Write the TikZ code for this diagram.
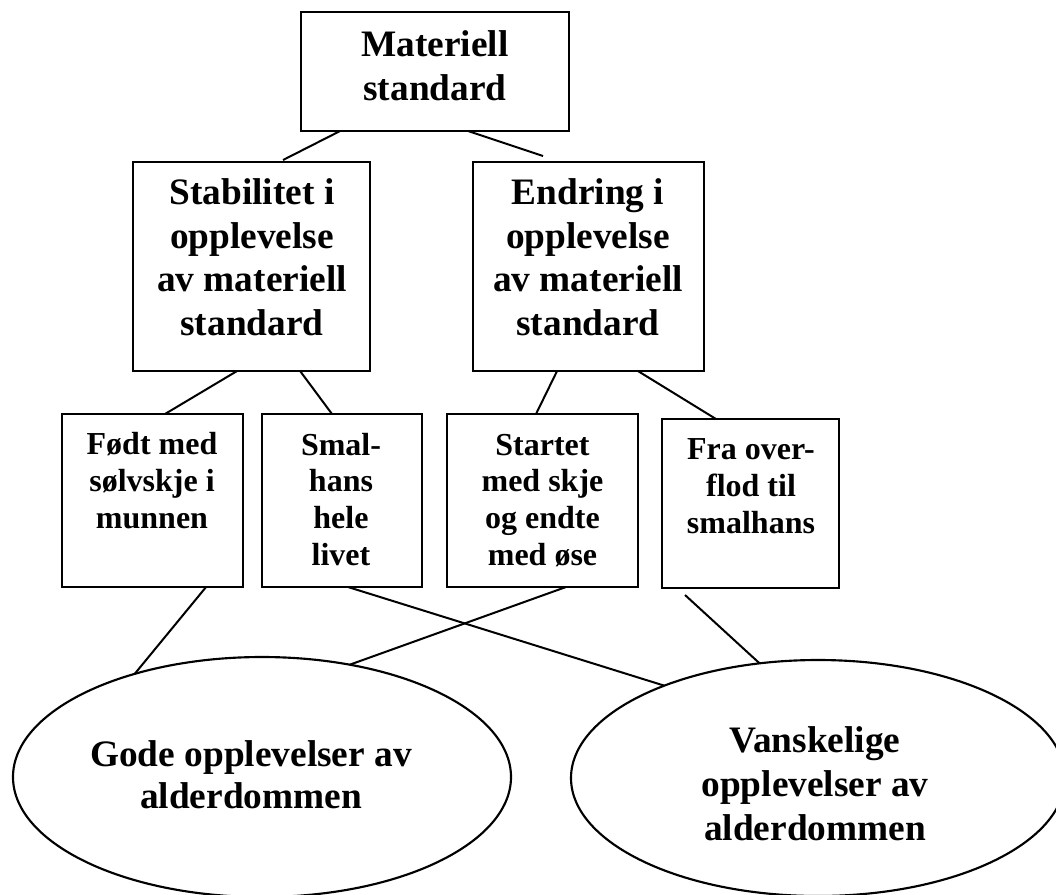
\documentclass[tikz,border=0pt]{standalone}
\usepackage{fontspec}
\setmainfont{Liberation Serif}
\usetikzlibrary{shapes.geometric,calc}
\begin{document}
\begin{tikzpicture}[x=0.375pt,y=-0.375pt,
  box/.style={draw=black, rectangle, line width=1pt, inner sep=0pt, outer sep=0pt},
  oval/.style={draw=black, ellipse, line width=0.8pt, inner sep=0pt, outer sep=0pt},
  link/.style={draw=black, line width=0.75pt},
  bigtxt/.style={font=\fontsize{14}{16.3}\bfseries\selectfont, align=center, inner sep=0pt, anchor=base},
  smalltxt/.style={font=\fontsize{12}{13.75}\bfseries\selectfont, align=center, inner sep=0pt, anchor=base}]
\useasboundingbox (0,0) rectangle (1056,894);
\clip (0,0) rectangle (1056,894);
% boxes
\node[box, minimum width=268*0.375pt, minimum height=119*0.375pt] (top) at (435,71.5) {};
\node[box, minimum width=237*0.375pt, minimum height=209*0.375pt] (stab) at (251.5,266.5) {};
\node[box, minimum width=231*0.375pt, minimum height=209*0.375pt] (endr) at (588.5,266.5) {};
\node[box, minimum width=181*0.375pt, minimum height=173*0.375pt] (fodt) at (152.5,500.5) {};
\node[box, minimum width=160*0.375pt, minimum height=173*0.375pt] (smal) at (342,500.5) {};
\node[box, minimum width=191*0.375pt, minimum height=173*0.375pt] (start) at (542.5,500.5) {};
\node[box, minimum width=177*0.375pt, minimum height=169*0.375pt] (fra) at (750.5,503.5) {};
\node[oval, minimum width=498*0.375pt, minimum height=240*0.375pt] (gode) at (262,777) {};
\node[oval, minimum width=494*0.375pt, minimum height=236*0.375pt] (vansk) at (818,778) {};
% texts (anchored at the baseline of their last line)
\node[bigtxt, font=\fontsize{14}{16.5}\bfseries\selectfont] (toptxt) at (435,100) {Materiell\\standard};
\node[bigtxt] (stabtxt) at (252,335) {Stabilitet i\\opplevelse\\av materiell\\standard};
\node[bigtxt] (endrtxt) at (588,335) {Endring i\\opplevelse\\av materiell\\standard};
\node[smalltxt] (fodttxt) at (152,528) {Født med\\sølvskje i\\munnen};
\node[smalltxt] (smaltxt) at (341,565) {Smal-\\hans\\hele\\livet};
\node[smalltxt] (starttxt) at (542.5,565) {Startet\\med skje\\og endte\\med øse};
\node[smalltxt] (fratxt) at (751,533) {Fra over-\\flod til\\smalhans};
\node[bigtxt, font=\fontsize{14}{15.75}\bfseries\selectfont] (godetxt) at (251,808) {Gode opplevelser av\\alderdommen};
\node[bigtxt, font=\fontsize{14}{16.5}\bfseries\selectfont] (vansktxt) at (815,840) {Vanskelige\\opplevelser av\\alderdommen};
% connectors
\draw[link] ($(top.south west)!0.146!(top.south east)$) -- ($(stab.north west)!0.633!(stab.north east)+(0,-2)$);
\draw[link] ($(top.south west)!0.623!(top.south east)$) -- ($(endr.north west)!0.303!(endr.north east)+(0,-6)$);
\draw[link] ($(stab.south west)!0.439!(stab.south east)$) -- ($(fodt.north west)!0.569!(fodt.north east)$);
\draw[link] ($(stab.south west)!0.705!(stab.south east)$) -- ($(smal.north west)!0.4375!(smal.north east)$);
\draw[link] ($(endr.south west)!0.364!(endr.south east)$) -- ($(start.north west)!0.466!(start.north east)$);
\draw[link] ($(endr.south west)!0.714!(endr.south east)$) -- ($(fra.north west)!0.305!(fra.north east)$);
\draw[link] ($(fodt.south west)!0.796!(fodt.south east)$) -- (gode.141.2);
\draw[link] ($(smal.south west)!0.5375!(smal.south east)$) -- (vansk.149.6);
\draw[link] ($(start.south west)!0.623!(start.south east)$) -- (gode.52.6);
\draw[link] ($(fra.south west)!0.13!(fra.south east)+(0,7)$) -- (vansk.117.3);
\end{tikzpicture}
\end{document}
